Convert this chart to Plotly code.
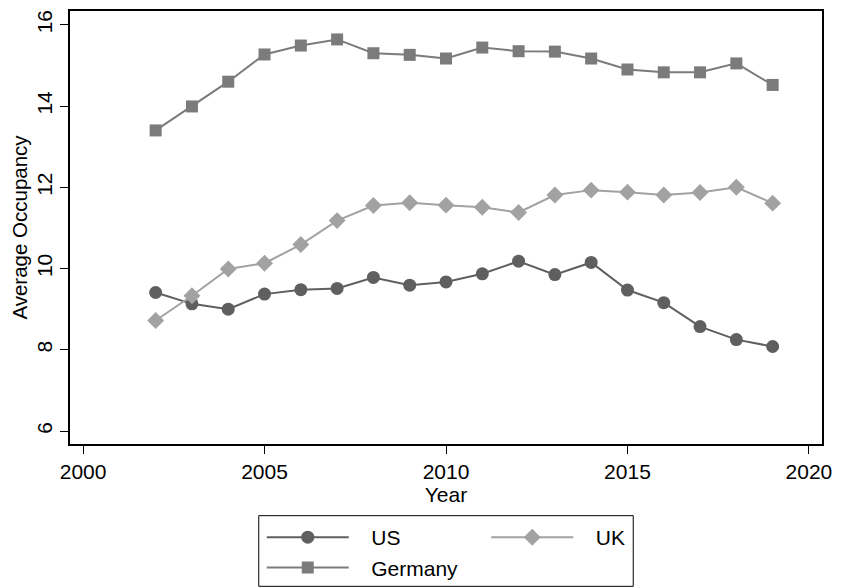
import plotly.graph_objects as go

years = list(range(2002, 2020))

us = [9.41, 9.13, 9.00, 9.37, 9.48, 9.51, 9.78, 9.59, 9.67, 9.87,
      10.18, 9.85, 10.15, 9.47, 9.16, 8.57, 8.25, 8.08]
uk = [8.72, 9.33, 9.99, 10.13, 10.59, 11.18, 11.55, 11.62, 11.56, 11.51,
      11.38, 11.81, 11.93, 11.88, 11.81, 11.87, 12.00, 11.61]
germany = [13.40, 13.99, 14.60, 15.27, 15.49, 15.64, 15.30, 15.26, 15.17, 15.44,
           15.35, 15.34, 15.17, 14.90, 14.83, 14.83, 15.05, 14.52]

x_ticks = [2000, 2005, 2010, 2015, 2020]
y_ticks = [6, 8, 10, 12, 14, 16]

FONT = "Liberation Sans, Arial, sans-serif"
PAD = "\u00a0\u00a0\u00a0"  # gap between legend key and label

fig = go.Figure()
fig.add_trace(go.Scatter(
    x=years, y=us, name=PAD + "US", mode="lines+markers", legend="legend",
    line=dict(color="#5f5f5f", width=2),
    marker=dict(symbol="circle", size=13, color="#5f5f5f"),
))
fig.add_trace(go.Scatter(
    x=years, y=uk, name=PAD + "UK", mode="lines+markers", legend="legend2",
    line=dict(color="#a2a2a2", width=2),
    marker=dict(symbol="diamond", size=13, color="#a2a2a2"),
))
fig.add_trace(go.Scatter(
    x=years, y=germany, name=PAD + "Germany", mode="lines+markers", legend="legend",
    line=dict(color="#7b7b7b", width=2),
    marker=dict(symbol="square", size=12, color="#7b7b7b"),
))

legend_common = dict(
    orientation="v", yref="container", yanchor="top", xanchor="left", y=0.1207,
    bgcolor="rgba(0,0,0,0)", borderwidth=0,
    font=dict(size=21), itemwidth=82, traceorder="normal",
)

fig.update_layout(
    width=841, height=588,
    margin=dict(l=70, r=14, t=9, b=144),
    paper_bgcolor="white", plot_bgcolor="white",
    font=dict(family=FONT, size=20, color="black"),
    showlegend=True,
    legend=dict(x=0.255, **legend_common),
    legend2=dict(x=0.5535, **legend_common),
    # frame around the two legend columns
    shapes=[dict(
        type="rect", xref="paper", yref="paper",
        x0=0.251, x1=0.749, y0=-0.3287, y1=-0.1655,
        line=dict(color="black", width=1), fillcolor="rgba(0,0,0,0)",
        layer="below",
    )],
    xaxis=dict(
        range=[1999.64, 2020.36],
        tickvals=x_ticks,
        ticks="outside", ticklen=8, tickwidth=1, tickcolor="black",
        tickfont=dict(size=21),
        showline=True, linecolor="black", linewidth=1.5, mirror=True,
        showgrid=False, zeroline=False,
        title=dict(text="Year", font=dict(size=21), standoff=0),
    ),
    yaxis=dict(
        range=[5.68, 16.34],
        tickvals=y_ticks,
        tickangle=-90,
        ticks="outside", ticklen=8, tickwidth=1, tickcolor="black",
        tickfont=dict(size=21),
        showline=True, linecolor="black", linewidth=1.5, mirror=True,
        showgrid=False, zeroline=False,
        title=dict(text="Average Occupancy", font=dict(size=20.5), standoff=0),
    ),
)

fig.write_html("out.html")
